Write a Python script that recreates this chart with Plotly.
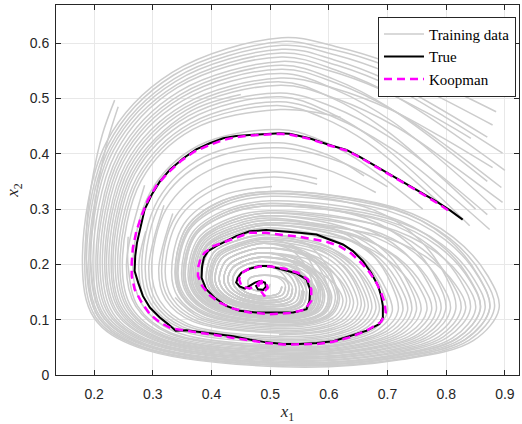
import plotly.graph_objects as go

# ---------------- data ----------------
true_x1 = [0.828, 0.806, 0.783, 0.749, 0.715, 0.681, 0.652, 0.630, 0.601, 0.567, 0.533, 0.516, 0.488, 0.465,
           0.442, 0.420, 0.397, 0.374, 0.352, 0.329, 0.312, 0.298, 0.286, 0.279, 0.273, 0.270, 0.269, 0.275,
           0.283, 0.295, 0.312, 0.326, 0.339, 0.357, 0.380, 0.408, 0.437, 0.465, 0.493, 0.522, 0.550, 0.579,
           0.607, 0.635, 0.664, 0.686, 0.692, 0.692, 0.692, 0.689, 0.684, 0.672, 0.658, 0.641, 0.624, 0.601,
           0.579, 0.550, 0.522, 0.493, 0.465, 0.442, 0.425, 0.408, 0.394, 0.387, 0.384, 0.383, 0.391, 0.405,
           0.425, 0.448, 0.476, 0.510, 0.539, 0.562, 0.567, 0.568, 0.562, 0.544, 0.522, 0.499, 0.482, 0.465,
           0.451, 0.445, 0.442, 0.448, 0.457, 0.465, 0.474, 0.482, 0.491, 0.493, 0.488, 0.479, 0.476, 0.482]
true_x2 = [0.281, 0.298, 0.314, 0.335, 0.356, 0.377, 0.395, 0.407, 0.416, 0.428, 0.436, 0.437, 0.436, 0.434,
           0.432, 0.428, 0.419, 0.408, 0.392, 0.371, 0.350, 0.326, 0.299, 0.269, 0.239, 0.215, 0.188, 0.167,
           0.143, 0.122, 0.104, 0.092, 0.080, 0.081, 0.078, 0.074, 0.070, 0.064, 0.059, 0.056, 0.056, 0.058,
           0.061, 0.070, 0.080, 0.092, 0.104, 0.113, 0.125, 0.143, 0.161, 0.185, 0.206, 0.224, 0.236, 0.245,
           0.254, 0.257, 0.260, 0.262, 0.260, 0.251, 0.242, 0.233, 0.224, 0.212, 0.197, 0.176, 0.155, 0.140,
           0.125, 0.116, 0.113, 0.113, 0.113, 0.119, 0.134, 0.155, 0.173, 0.184, 0.191, 0.197, 0.197, 0.192,
           0.185, 0.176, 0.167, 0.160, 0.156, 0.161, 0.167, 0.170, 0.167, 0.160, 0.154, 0.155, 0.161, 0.164]

koop_x1 = [0.803, 0.783, 0.749, 0.715, 0.681, 0.652, 0.630, 0.601, 0.567, 0.533, 0.516, 0.488, 0.465, 0.442,
           0.420, 0.397, 0.371, 0.349, 0.326, 0.306, 0.292, 0.281, 0.272, 0.266, 0.264, 0.264, 0.269, 0.281,
           0.295, 0.312, 0.332, 0.357, 0.380, 0.408, 0.437, 0.465, 0.493, 0.522, 0.550, 0.579, 0.607, 0.635,
           0.664, 0.689, 0.697, 0.695, 0.689, 0.681, 0.669, 0.655, 0.638, 0.618, 0.596, 0.573, 0.550, 0.522,
           0.493, 0.465, 0.442, 0.420, 0.403, 0.388, 0.381, 0.377, 0.377, 0.384, 0.397, 0.414, 0.437, 0.465,
           0.499, 0.533, 0.559, 0.570, 0.570, 0.564, 0.547, 0.525, 0.502, 0.482, 0.462, 0.451, 0.447, 0.451,
           0.465, 0.476, 0.485, 0.493, 0.496, 0.488, 0.491, 0.482, 0.479, 0.488]
koop_x2 = [0.298, 0.312, 0.334, 0.355, 0.376, 0.394, 0.406, 0.415, 0.427, 0.435, 0.436, 0.435, 0.433, 0.430,
           0.425, 0.416, 0.404, 0.388, 0.366, 0.342, 0.317, 0.289, 0.260, 0.230, 0.203, 0.179, 0.155, 0.131,
           0.110, 0.095, 0.084, 0.080, 0.077, 0.072, 0.067, 0.062, 0.058, 0.055, 0.055, 0.056, 0.060, 0.068,
           0.080, 0.096, 0.113, 0.131, 0.149, 0.167, 0.186, 0.203, 0.220, 0.233, 0.241, 0.246, 0.250, 0.253,
           0.257, 0.257, 0.248, 0.240, 0.233, 0.221, 0.209, 0.194, 0.179, 0.161, 0.144, 0.131, 0.120, 0.113,
           0.110, 0.112, 0.118, 0.134, 0.155, 0.173, 0.185, 0.192, 0.196, 0.196, 0.191, 0.184, 0.173, 0.161,
           0.156, 0.164, 0.170, 0.167, 0.158, 0.149, 0.142, 0.155, 0.164, 0.167]

# Training trajectories (x1, x2) pairs, estimated from the grey curves
train_01 = [(.885,.476),(.794,.523),(.710,.562),(.611,.594),(.520,.610),(.333,.547),(.221,.421),(.180,.206),
            (.200,.103),(.275,.050),(.520,.015),(.724,.028),(.846,.062),(.890,.120),(.871,.179),(.812,.249),
            (.715,.302),(.502,.332),(.418,.315),(.358,.268),(.338,.185),(.349,.142),(.388,.109),(.509,.090),
            (.575,.094),(.606,.109),(.618,.136),(.612,.162),(.592,.193),(.560,.217),(.488,.230),(.453,.222),
            (.424,.206),(.413,.174),(.419,.156),(.440,.139),(.490,.128),(.524,.129),(.539,.137),(.544,.155)]
train_02 = [(.879,.452),(.789,.502),(.707,.544),(.610,.579),(.520,.596),(.337,.536),(.227,.413),(.187,.205),
            (.207,.105),(.280,.052),(.520,.018),(.715,.031),(.832,.064),(.874,.120),(.855,.177),(.799,.244),
            (.706,.295),(.501,.323),(.422,.307),(.363,.263),(.343,.184),(.354,.144),(.392,.112),(.508,.092),
            (.571,.097),(.600,.111),(.611,.138),(.605,.164),(.586,.194),(.556,.217),(.488,.230),(.453,.222),
            (.424,.206),(.413,.174),(.419,.156),(.440,.139),(.490,.128)]
train_03 = [(.896,.401),(.802,.464),(.716,.517),(.614,.560),(.519,.582),(.341,.525),(.233,.406),(.194,.204),
            (.214,.107),(.285,.055),(.520,.022),(.707,.034),(.818,.066),(.858,.119),(.840,.174),(.786,.239),
            (.697,.288),(.500,.315),(.425,.299),(.368,.258),(.349,.183),(.359,.145),(.396,.114),(.507,.095),
            (.568,.099),(.595,.113),(.605,.140),(.599,.160),(.581,.185),(.551,.203),(.485,.213),(.458,.207),
            (.436,.194),(.428,.172),(.433,.158),(.449,.145),(.485,.135),(.512,.136),(.527,.142),(.532,.158)]
train_04 = [(.842,.428),(.762,.477),(.687,.517),(.601,.550),(.519,.567),(.345,.513),(.241,.398),(.203,.203),
            (.221,.109),(.291,.058),(.521,.025),(.697,.037),(.802,.068),(.841,.119),(.824,.171),(.773,.233),
            (.687,.280),(.499,.306),(.428,.291),(.373,.253),(.355,.182),(.365,.146),(.400,.116),(.506,.098),
            (.565,.102),(.590,.115),(.599,.141),(.593,.161),(.576,.185),(.548,.203),(.485,.213),(.458,.207),
            (.436,.194),(.428,.172),(.433,.158)]
train_05 = [(.894,.339),(.801,.414),(.714,.476),(.614,.527),(.519,.553),(.349,.502),(.247,.390),(.210,.202),
            (.228,.111),(.296,.060),(.521,.029),(.688,.040),(.788,.070),(.825,.118),(.809,.168),(.760,.227),
            (.678,.272),(.498,.297),(.431,.283),(.378,.248),(.360,.181),(.370,.147),(.405,.118),(.504,.101),
            (.561,.105),(.585,.117),(.593,.143),(.588,.163),(.571,.186),(.544,.203),(.485,.213),(.458,.207),
            (.436,.194),(.428,.172),(.433,.158),(.449,.145),(.485,.135),(.512,.136)]
train_06 = [(.879,.375),(.789,.432),(.707,.479),(.610,.518),(.518,.537),(.353,.489),(.254,.382),(.218,.201),
            (.236,.114),(.302,.063),(.521,.032),(.678,.043),(.773,.072),(.807,.118),(.791,.166),(.745,.222),
            (.667,.264),(.496,.288),(.435,.275),(.383,.243),(.366,.181),(.375,.149),(.409,.121),(.503,.104),
            (.558,.107),(.579,.119),(.586,.145),(.581,.164),(.566,.186),(.541,.203),(.485,.213),(.458,.207),
            (.436,.194),(.428,.172),(.433,.158),(.449,.145),(.485,.135),(.512,.136),(.527,.142),(.532,.158),
            (.530,.169),(.522,.182),(.510,.192),(.482,.197)]
train_07 = [(.896,.312),(.802,.386),(.716,.448),(.614,.499),(.518,.524),(.357,.479),(.260,.374),(.225,.201),
            (.243,.116),(.307,.065),(.521,.036),(.670,.046),(.759,.074),(.791,.118),(.776,.163),(.732,.217),
            (.658,.257),(.495,.280),(.438,.267),(.388,.238),(.372,.180),(.380,.150),(.413,.123),(.502,.106),
            (.555,.110),(.574,.121),(.580,.147),(.575,.161),(.560,.178),(.536,.190),(.482,.197),(.462,.192),
            (.449,.183),(.443,.170),(.447,.160),(.458,.150),(.480,.143),(.500,.143)]
train_08 = [(.870,.290),(.783,.367),(.702,.431),(.608,.484),(.518,.510),(.360,.468),(.266,.366),(.232,.200),
            (.249,.118),(.312,.067),(.521,.039),(.661,.048),(.744,.075),(.775,.117),(.761,.160),(.719,.211),
            (.649,.249),(.494,.271),(.441,.259),(.393,.233),(.377,.179),(.386,.151),(.417,.126),(.501,.109),
            (.551,.112),(.568,.123),(.574,.149),(.569,.162),(.556,.178),(.533,.190),(.482,.197),(.462,.192),
            (.449,.183),(.443,.170),(.447,.160),(.458,.150),(.480,.143),(.500,.143),(.515,.148),(.520,.160)]
train_09 = [(.874,.263),(.786,.344),(.704,.411),(.609,.466),(.517,.494),(.364,.455),(.273,.358),(.240,.199),
            (.257,.120),(.318,.070),(.521,.042),(.651,.051),(.729,.077),(.757,.117),(.744,.158),(.704,.205),
            (.638,.242),(.493,.262),(.444,.251),(.398,.228),(.383,.178),(.391,.152),(.421,.128),(.500,.112),
            (.548,.115),(.563,.125),(.568,.150),(.564,.163),(.551,.179),(.529,.190),(.482,.197),(.462,.192),
            (.449,.183),(.443,.170)]
train_10 = [(.620,.466),(.517,.480),(.368,.444),(.280,.351),(.248,.198),(.264,.122),(.323,.073),(.522,.046),
            (.642,.054),(.715,.079),(.741,.116),(.729,.162),(.692,.216),(.630,.257),(.495,.280),(.438,.267),
            (.388,.238),(.372,.180),(.380,.150),(.413,.123),(.502,.106),(.555,.110),(.574,.121),(.580,.147),
            (.575,.161),(.560,.178),(.536,.190),(.482,.197),(.462,.192),(.449,.183),(.443,.170),(.447,.160),
            (.458,.150),(.480,.143)]
train_11 = [(.286,.343),(.255,.197),(.271,.124),(.328,.075),(.522,.049),(.634,.057),(.701,.081),(.726,.116),
            (.714,.159),(.680,.211),(.622,.249),(.494,.271),(.441,.259),(.393,.233),(.377,.179),(.386,.151),
            (.417,.126),(.501,.109),(.551,.112),(.568,.123),(.574,.149),(.569,.162),(.556,.178),(.533,.190),
            (.482,.197),(.462,.192),(.449,.183),(.443,.170),(.447,.160),(.458,.150),(.480,.143),(.500,.143),
            (.515,.148),(.520,.160)]
train_12 = [(.450,.052),(.522,.053),(.624,.060),(.685,.083),(.708,.115),(.697,.156),(.665,.205),(.611,.241),
            (.493,.262),(.444,.251),(.398,.228),(.383,.178),(.391,.152),(.421,.128),(.500,.112),(.548,.115),
            (.563,.125),(.568,.150),(.564,.163),(.551,.179),(.529,.190),(.482,.197),(.462,.192),(.449,.183),
            (.443,.170),(.447,.160),(.458,.150)]
train_13 = [(.235,.497),(.214,.435),(.198,.360),(.188,.280),(.187,.205),(.207,.105),(.280,.052),(.520,.018),
            (.715,.031),(.832,.064),(.874,.120),(.855,.179),(.800,.249),(.707,.302),(.502,.332),(.418,.315),
            (.358,.268),(.338,.185),(.349,.142),(.388,.109),(.509,.090)]
train_14 = [(.241,.485),(.222,.420),(.206,.340),(.197,.270),(.194,.204),(.214,.107),(.285,.055),(.520,.022),
            (.707,.034),(.818,.066),(.858,.119),(.840,.171),(.786,.233),(.696,.280),(.499,.306),(.428,.291),
            (.373,.253),(.355,.182),(.365,.146),(.400,.116),(.506,.098),(.565,.102),(.590,.115),(.599,.141),
            (.593,.161),(.576,.185),(.548,.203),(.485,.213),(.458,.207),(.436,.194)]
train_15 = [(.660,.360),(.600,.397),(.514,.420),(.386,.394),(.309,.317),(.281,.193),(.296,.130),(.347,.085),
            (.520,.062),(.608,.068),(.660,.089),(.680,.119),(.671,.155),(.642,.196),(.595,.228),(.490,.246),
            (.449,.236),(.411,.217),(.398,.176),(.405,.154),(.430,.134),(.495,.120),(.536,.122),(.551,.131),
            (.556,.153),(.552,.165),(.541,.180),(.523,.191),(.482,.197),(.462,.192),(.449,.183),(.443,.170)]
train_16 = [(.319,.307),(.293,.192),(.306,.133),(.355,.090),(.518,.067),(.602,.073),(.649,.093),(.667,.122),
            (.658,.157),(.632,.198),(.587,.229),(.490,.246),(.449,.236),(.411,.217),(.398,.176),(.405,.154),
            (.430,.134),(.495,.120),(.536,.122),(.551,.131),(.556,.153),(.552,.165),(.541,.180),(.523,.191),
            (.482,.197),(.462,.192)]
train_17 = [(.515,.073),(.595,.079),(.639,.097),(.655,.126),(.647,.160),(.622,.199),(.581,.229),(.490,.246),
            (.449,.236),(.411,.217),(.398,.176),(.405,.154),(.430,.134),(.495,.120),(.536,.122),(.551,.131),
            (.556,.153),(.552,.165),(.541,.180),(.523,.191),(.482,.197),(.462,.192),(.449,.183),(.443,.170),
            (.447,.160),(.458,.150)]
train_18 = [(.580,.355),(.507,.367),(.406,.346),(.339,.287),(.315,.188),(.327,.138),(.372,.099),(.513,.078),
            (.588,.084),(.628,.101),(.642,.129),(.634,.157),(.611,.191),(.573,.216),(.488,.230),(.453,.222),
            (.424,.206),(.413,.174),(.419,.156),(.440,.139),(.490,.128),(.524,.129),(.539,.137),(.544,.155),
            (.541,.167),(.532,.181),(.516,.191),(.482,.197),(.462,.192),(.449,.183)]
train_19 = [(.338,.140),(.380,.104),(.511,.084),(.582,.089),(.617,.105),(.630,.133),(.623,.160),(.602,.192),
            (.566,.216),(.488,.230),(.453,.222),(.424,.206),(.413,.174),(.419,.156),(.440,.139),(.490,.128),
            (.524,.129),(.539,.137),(.544,.155),(.541,.167),(.532,.181),(.516,.191),(.482,.197),(.462,.192),
            (.449,.183),(.443,.170),(.447,.160)]
train_20 = [(.800,.515),(.666,.571),(.590,.592),(.520,.603),(.335,.542),(.224,.417),(.184,.206),(.203,.104),
            (.278,.051),(.520,.017),(.720,.029),(.839,.063),(.882,.120),(.863,.178),(.806,.247),(.711,.299),
            (.502,.328),(.420,.311),(.361,.265),(.341,.184),(.351,.143),(.390,.110),(.508,.091),(.573,.096),
            (.603,.110),(.615,.137),(.609,.165),(.590,.199),(.558,.224),(.489,.238),(.451,.229),(.417,.211),
            (.406,.175),(.412,.155),(.435,.136),(.493,.124),(.530,.126)]
train_21 = [(.870,.430),(.702,.532),(.608,.570),(.520,.589),(.339,.531),(.230,.410),(.191,.205),(.210,.106),
            (.283,.054),(.520,.020),(.711,.032),(.825,.065),(.866,.119),(.848,.172),(.793,.236),(.701,.283),
            (.499,.310),(.426,.295),(.371,.255),(.352,.183),(.362,.145),(.398,.115),(.506,.097),(.566,.101),
            (.593,.114),(.602,.140),(.596,.163),(.579,.189),(.550,.210),(.486,.221),(.455,.214),(.430,.200),
            (.421,.173),(.426,.157),(.444,.142),(.488,.131),(.518,.133),(.533,.139),(.538,.156)]
train_22 = [(.900,.370),(.718,.501),(.615,.550),(.519,.575),(.342,.520),(.237,.402),(.198,.204),(.217,.108),
            (.288,.056),(.520,.023),(.702,.035),(.811,.067),(.850,.119),(.832,.168),(.779,.225),(.691,.269),
            (.497,.293),(.433,.279),(.381,.245),(.363,.181),(.372,.148),(.407,.120),(.504,.102),(.560,.106),
            (.582,.118),(.590,.144),(.585,.161),(.569,.181),(.542,.196),(.483,.205),(.460,.200),(.443,.189),
            (.436,.171),(.440,.159),(.453,.147),(.483,.139)]
train_23 = [(.870,.350),(.702,.484),(.608,.535),(.519,.560),(.347,.507),(.244,.394),(.206,.203),(.225,.110),
            (.294,.059),(.521,.027),(.692,.038),(.795,.069),(.833,.119),(.816,.163),(.765,.214),(.681,.253),
            (.495,.275),(.439,.263),(.391,.235),(.375,.179),(.383,.150),(.415,.124),(.502,.108),(.553,.111),
            (.571,.122),(.577,.147),(.572,.161),(.558,.178),(.534,.190),(.482,.197),(.462,.192),(.449,.183),
            (.443,.170),(.447,.160),(.458,.150)]
train_24 = [(.885,.300),(.710,.457),(.611,.516),(.519,.545),(.351,.496),(.250,.386),(.214,.202),(.232,.112),
            (.299,.061),(.521,.030),(.683,.041),(.780,.071),(.816,.118),(.800,.177),(.753,.246),(.675,.299),
            (.502,.328),(.420,.311),(.361,.265),(.341,.184),(.351,.143),(.390,.110),(.508,.091),(.573,.096),
            (.603,.110),(.615,.137),(.609,.170),(.590,.208),(.560,.238),(.492,.254),(.446,.244),(.404,.222),
            (.391,.177),(.398,.153),(.426,.131),(.498,.116),(.542,.119),(.557,.128),(.562,.151)]
train_25 = [(.850,.300),(.692,.447),(.603,.502),(.518,.530),(.355,.484),(.257,.378),(.221,.201),(.239,.115),
            (.304,.064),(.521,.034),(.674,.044),(.766,.073),(.799,.118),(.784,.172),(.739,.235),(.664,.283),
            (.499,.310),(.426,.295),(.371,.255),(.352,.183),(.362,.145),(.398,.115),(.506,.097),(.566,.101),
            (.593,.114),(.602,.140),(.596,.167),(.579,.200),(.551,.224),(.489,.238),(.451,.229),(.417,.211),
            (.406,.175),(.412,.155),(.435,.136),(.493,.124),(.530,.126),(.545,.134),(.550,.154)]
train_26 = [(.450,.507),(.358,.473),(.263,.370),(.229,.200),(.246,.117),(.310,.066),(.521,.037),(.665,.047),
            (.752,.074),(.783,.117),(.769,.166),(.726,.224),(.654,.268),(.497,.293),(.433,.279),(.381,.245),
            (.363,.181),(.372,.148),(.407,.120),(.504,.102),(.560,.106),(.582,.118),(.590,.144),(.585,.166),
            (.569,.191),(.543,.210),(.486,.221),(.455,.214),(.430,.200),(.421,.173),(.426,.157),(.444,.142),
            (.488,.131),(.518,.133)]
train_27 = [(.840,.270),(.686,.419),(.600,.475),(.518,.503),(.362,.462),(.269,.363),(.236,.199),(.253,.119),
            (.315,.069),(.521,.040),(.656,.050),(.737,.076),(.767,.117),(.753,.161),(.713,.213),(.645,.253),
            (.495,.275),(.439,.263),(.391,.235),(.375,.179),(.383,.150),(.415,.124),(.502,.108),(.553,.111),
            (.571,.122),(.577,.147),(.572,.163),(.558,.182),(.535,.197),(.483,.205),(.460,.200),(.443,.189),
            (.436,.171),(.440,.159),(.453,.147),(.483,.139),(.506,.140),(.521,.145),(.526,.159)]
train_28 = [(.800,.300),(.666,.420),(.590,.465),(.517,.487),(.366,.450),(.276,.354),(.244,.198),(.260,.121),
            (.320,.071),(.521,.044),(.647,.053),(.722,.078),(.749,.116),(.736,.164),(.698,.221),(.635,.264),
            (.496,.288),(.435,.275),(.383,.243),(.366,.181),(.375,.149),(.409,.121),(.503,.104),(.558,.107),
            (.579,.119),(.586,.145),(.581,.173),(.567,.207),(.543,.232),(.490,.246),(.449,.236),(.411,.217),
            (.398,.176),(.405,.154),(.430,.134),(.495,.120)]
train_29 = [(.420,.058),(.522,.047),(.638,.056),(.708,.080),(.734,.116),(.722,.159),(.686,.211),(.626,.249),
            (.494,.271),(.441,.259),(.393,.233),(.377,.179),(.386,.151),(.417,.126),(.501,.109),(.551,.112),
            (.568,.123),(.574,.149),(.570,.174),(.557,.203),(.536,.226),(.489,.238),(.451,.229),(.417,.211),
            (.406,.175),(.412,.155),(.435,.136),(.493,.124)]
train_30 = [(.258,.250),(.258,.196),(.274,.125),(.331,.076),(.522,.051),(.629,.058),(.694,.082),(.718,.116),
            (.707,.163),(.674,.218),(.618,.260),(.496,.284),(.437,.271),(.386,.241),(.369,.180),(.378,.150),
            (.411,.122),(.503,.105),(.557,.109),(.577,.120),(.583,.146),(.578,.167),(.564,.192),(.539,.211),
            (.486,.221),(.455,.214),(.430,.200),(.421,.173),(.426,.157),(.444,.142),(.488,.131),(.518,.133),
            (.533,.139),(.538,.156)]
train_31 = [(.760,.300),(.645,.392),(.580,.427),(.516,.444),(.378,.415),(.296,.331),(.266,.195),(.282,.127),
            (.336,.079),(.522,.054),(.619,.062),(.678,.084),(.700,.115),(.690,.157),(.659,.207),(.607,.245),
            (.494,.266),(.442,.255),(.396,.230),(.380,.178),(.388,.151),(.419,.127),(.501,.111),(.550,.114),
            (.566,.124),(.571,.149),(.567,.165),(.553,.183),(.531,.197),(.483,.205),(.460,.200),(.443,.189),
            (.436,.171),(.440,.159),(.453,.147),(.483,.139),(.506,.140)]
train_32 = [(.700,.340),(.620,.385),(.513,.411),(.390,.386),(.314,.312),(.287,.192),(.301,.132),(.351,.087),
            (.519,.064),(.605,.071),(.655,.091),(.673,.120),(.664,.158),(.637,.202),(.592,.235),(.492,.254),
            (.446,.244),(.404,.222),(.391,.177),(.398,.153),(.426,.131),(.498,.116),(.542,.119),(.557,.128),
            (.562,.151),(.558,.164),(.546,.179),(.526,.191),(.482,.197),(.462,.192),(.449,.183),(.443,.170),
            (.447,.160),(.458,.150),(.480,.143),(.500,.143),(.515,.148),(.520,.160)]
train_33 = [(.334,.292),(.310,.189),(.322,.136),(.368,.097),(.514,.076),(.592,.081),(.633,.099),(.649,.127),
            (.641,.158),(.617,.195),(.577,.222),(.489,.238),(.451,.229),(.417,.211),(.406,.175),(.412,.155),
            (.435,.136),(.493,.124),(.530,.126),(.545,.134),(.550,.154),(.547,.168),(.537,.185),(.520,.198),
            (.483,.205),(.460,.200),(.443,.189),(.436,.171),(.440,.159),(.453,.147),(.483,.139)]
train_34 = [(.580,.345),(.506,.358),(.409,.338),(.344,.282),(.321,.187),(.333,.139),(.376,.102),(.512,.081),
            (.585,.086),(.622,.103),(.636,.131),(.629,.156),(.606,.186),(.569,.208),(.486,.221),(.455,.214),
            (.430,.200),(.421,.173),(.426,.157),(.444,.142),(.488,.131),(.518,.133),(.533,.139),(.538,.156),
            (.535,.165),(.525,.174),(.508,.179),(.482,.180),(.465,.175),(.462,.165),(.470,.155),(.482,.152),
            (.497,.156),(.500,.165)]
train_35 = [(.503,.341),(.415,.323),(.353,.273),(.332,.186),(.343,.141),(.384,.106),(.510,.087),(.578,.092),
            (.612,.107),(.624,.134),(.617,.154),(.596,.177),(.561,.195),(.483,.205),(.460,.200),(.443,.189),
            (.436,.171),(.440,.159),(.453,.147),(.483,.139),(.506,.140),(.521,.145),(.526,.159),(.523,.168),
            (.513,.176),(.498,.180),(.482,.180),(.465,.175),(.462,.165),(.470,.155),(.482,.152)]
train_36 = [(.492,.254),(.446,.244),(.404,.222),(.391,.177),(.398,.153),(.426,.131),(.498,.116),(.542,.119),
            (.557,.128),(.562,.151),(.558,.171),(.547,.194),(.528,.211),(.486,.221),(.455,.214),(.430,.200),
            (.421,.173),(.426,.157),(.444,.142),(.488,.131),(.518,.133),(.533,.139),(.538,.156)]
train_37 = [(.485,.213),(.458,.207),(.436,.194),(.428,.172),(.433,.158),(.449,.145),(.485,.135),(.512,.136),
            (.527,.142),(.532,.158),(.529,.168),(.519,.176),(.503,.180),(.482,.180),(.465,.175),(.462,.165),
            (.470,.155),(.482,.152),(.497,.156)]
train_38 = [(.680,.330),(.600,.370),(.510,.393),(.396,.370),(.324,.302),(.298,.191),(.312,.134),(.360,.092),
            (.516,.070),(.598,.076),(.644,.095),(.661,.124),(.652,.157),(.627,.196),(.584,.225),(.490,.242),
            (.449,.233),(.413,.214),(.401,.176),(.408,.154),(.432,.135),(.494,.121),(.534,.123),(.549,.132),
            (.554,.153)]
train_39 = [(.288,.260),(.276,.194),(.290,.129),(.343,.082),(.521,.059),(.612,.066),(.666,.087),(.686,.117),
            (.676,.154),(.647,.198),(.598,.231),(.491,.249),(.448,.239),(.408,.219),(.395,.176),(.402,.154),
            (.428,.132),(.496,.118),(.538,.121),(.553,.130),(.558,.152)]

train_paths = [train_01, train_02, train_03, train_04, train_05, train_06, train_07, train_08, train_09,
               train_10, train_11, train_12, train_13, train_14, train_15, train_16, train_17, train_18,
               train_19, train_20, train_21, train_22, train_23, train_24, train_25, train_26, train_27,
               train_28, train_29, train_30, train_31, train_32, train_33, train_34, train_35, train_36,
               train_37, train_38, train_39]

x_ticks = [0.2, 0.3, 0.4, 0.5, 0.6, 0.7, 0.8, 0.9]
y_ticks = [0, 0.1, 0.2, 0.3, 0.4, 0.5, 0.6]

# ---------------- figure ----------------
GREY = "rgb(204,204,204)"
fig = go.Figure()

for k, path in enumerate(train_paths):
    fig.add_trace(go.Scatter(
        x=[p[0] for p in path], y=[p[1] for p in path], mode="lines",
        line=dict(color=GREY, width=1.5, shape="spline", smoothing=1.0),
        name="Training data", legendgroup="train", showlegend=(k == 0), hoverinfo="skip"))

fig.add_trace(go.Scatter(x=true_x1, y=true_x2, mode="lines", name="True",
                         line=dict(color="black", width=2)))
fig.add_trace(go.Scatter(x=koop_x1, y=koop_x2, mode="lines", name="Koopman",
                         line=dict(color="#ff00ff", width=2.5, dash="8px,5px")))

axis_common = dict(showline=True, linecolor="#262626", linewidth=1, mirror="ticks",
                   ticks="inside", ticklen=5, tickcolor="#262626",
                   showgrid=True, gridcolor="#e8e8e8", gridwidth=1, zeroline=False,
                   tickfont=dict(family="Liberation Sans, Arial, sans-serif", size=14, color="#262626"))

fig.update_xaxes(range=[0.135, 0.924], tickvals=x_ticks, ticktext=[str(v) for v in x_ticks],
                 title=dict(text="<i>x</i><sub>1</sub>", font=dict(family="Liberation Serif, serif", size=17,
                                                                     color="#262626"), standoff=8),
                 ticklabelstandoff=6, **axis_common)
fig.update_yaxes(range=[0, 0.669], tickvals=y_ticks, ticktext=["0"] + [str(v) for v in y_ticks[1:]],
                 title=dict(text="<i>x</i><sub>2</sub>", font=dict(family="Liberation Serif, serif", size=17,
                                                                     color="#262626"), standoff=6),
                 ticklabelstandoff=3, **axis_common)

fig.update_layout(
    width=522, height=424,
    margin=dict(l=56, r=2, t=5, b=47),
    paper_bgcolor="white", plot_bgcolor="white",
    legend=dict(x=0.9935, y=0.968, xanchor="right", yanchor="top",
                bgcolor="white", bordercolor="#262626", borderwidth=1,
                font=dict(family="Liberation Serif, serif", size=15, color="black"),
                tracegroupgap=0, itemwidth=40),
    showlegend=True,
)

fig.write_html("out.html")
